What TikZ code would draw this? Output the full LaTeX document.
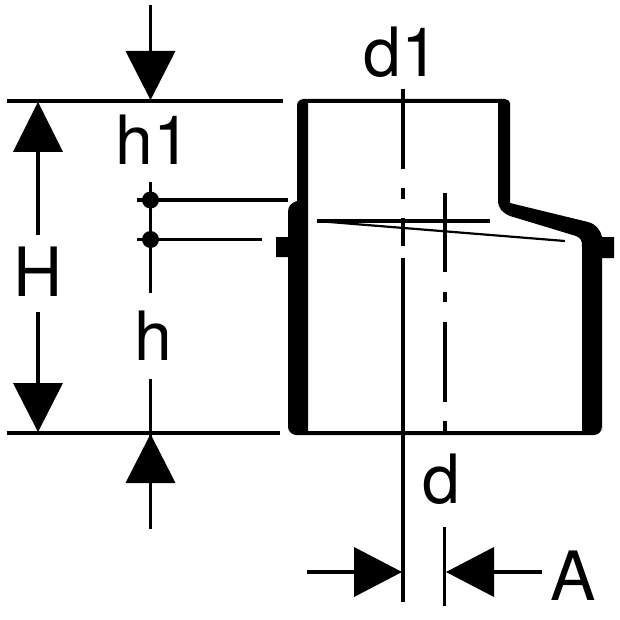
\documentclass[tikz,border=0pt]{standalone}
\usepackage{fontspec}
\setmainfont{TeX Gyre Heros}
\tikzset{
  x=1pt,y=-1pt,
  dim/.style={draw=black,line width=3.6pt},
  center/.style={draw=black,line width=3.2pt},
  thin/.style={draw=black,line width=2.2pt},
  head/.style={fill=black,draw=none},
  wall/.style={fill=black,draw=none},
  dot/.style={circle,fill=black,draw=none,minimum size=17pt,inner sep=0pt},
  lab/.style={font=\fontsize{68}{68}\selectfont,inner sep=0pt,text=black,anchor=base}
}
\begin{document}
\begin{tikzpicture}
\useasboundingbox (0,0) rectangle (620,620);
\fill[white] (0,0) rectangle (620,620);
% pipe body
\path[wall] (308,433) -- (308,103) -- (498,103) -- (498,200)
  .. controls (498,209) and (503,213) .. (510,216)
  -- (576,236) .. controls (581,238) and (582,241) .. (582,246)
  -- (582,433) -- (582,431) -- (602,431) -- (602,258) -- (614,258) -- (614,237) -- (602,237)
  .. controls (601,231) and (596,224) .. (588,222)
  -- (510,203) -- (510,103)
  .. controls (510,101) and (508,100) .. (505,99)
  -- (303,99) .. controls (299,100) and (297,102) .. (297,106)
  -- (297,201) .. controls (291,203) and (288,206) .. (288,212)
  -- (288,237) -- (276,237) -- (276,257) -- (288,257)
  -- (288,427) .. controls (288,431) and (292,435) .. (296,435)
  -- (594,435) .. controls (599,435) and (602,431) .. (602,426)
  -- (602,431) -- (582,431) -- (308,431) -- cycle;
% extension lines
\coordinate (t1) at (7,101); \coordinate (t2) at (283,101);
\coordinate (b1) at (7,433); \coordinate (b2) at (280,433);
\draw[dim] (t1) -- (t2);
\draw[dim] (b1) -- (b2);
% centre lines
\draw[center] (403,89) -- (403,169) (403,188) -- (403,199) (403,218) -- (403,246);
\draw[dim] (403,258) -- (403,602);
\draw[center] (445,193) -- (445,272) (445,292) -- (445,302) (445,322) -- (445,402) (445,421) -- (445,433);
\draw[dim] (444.5,527) -- (444.5,606);
\draw[center] (317,221) -- (490,221);
\draw[thin] (317,221) -- (565,241);
% level dots
\node[dot] (p1) at (150.5,200) {};
\node[dot] (p2) at (150.5,239.5) {};
\coordinate (p1a) at (137,200); \coordinate (p1b) at (288,200);
\coordinate (p2a) at (137,239.5); \coordinate (p2b) at (262,239.5);
\draw[dim] (p1a) -- (p1b);
\draw[dim] (p2a) -- (p2b);
\draw[dim] (150.5,182) -- (150.5,293);
% h1 arrow
\draw[dim] (150.5,5) -- (150.5,55);
\path[head] (125.5,51) -- (175.5,51) -- (150.5,100) -- cycle;
% h arrow
\draw[dim] (150.5,379) -- (150.5,529);
\path[head] (125.5,483) -- (175.5,483) -- (150.5,434) -- cycle;
% H arrows
\draw[dim] (38,150) -- (38,235);
\path[head] (13,152) -- (63,152) -- (38,102) -- cycle;
\draw[dim] (38,312) -- (38,385);
\path[head] (13,383) -- (63,383) -- (38,432) -- cycle;
% A arrows
\draw[dim] (307,572) -- (358,572);
\path[head] (354,547) -- (354,597) -- (402,572) -- cycle;
\draw[dim] (490,572) -- (542,572);
\path[head] (494,547) -- (494,597) -- (446,572) -- cycle;
% labels
\node[lab] (ld1) at (401,77) {d1};
\node[lab] (lh1) at (153,165) {h1};
\node[lab] (lH) at (38,296) {H};
\node[lab] (lh) at (153,360) {h};
\node[lab] (ld) at (441,503) {d};
\node[lab] (lA) at (573.5,600) {A};
\end{tikzpicture}
\end{document}
